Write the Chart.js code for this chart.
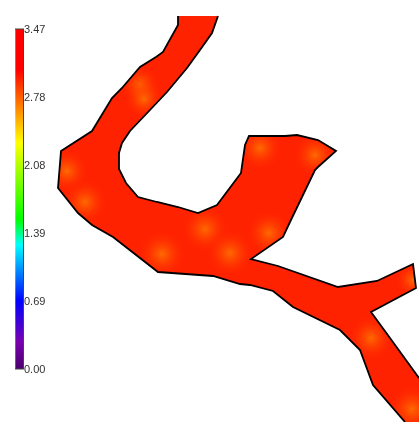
<!DOCTYPE html>
<html>
<head>
<meta charset="utf-8">
<style>
  html, body { margin: 0; padding: 0; background: #fff; }
  canvas { display: block; }
</style>
<script src="https://cdn.jsdelivr.net/npm/chart.js@4"></script>
</head>
<body>
<canvas id="heat-chart" width="419" height="422"></canvas>
<script>
// outline of the region, [x, y], down the left/lower bank
const leftBankX = [178, 178, 163, 156, 140, 122, 112, 92, 61, 58, 78, 92, 113, 158, 213, 240, 250, 273, 293, 340, 360, 373, 405];
const leftBankY = [16, 25, 52, 57, 67, 88, 98, 131, 151, 188, 213, 225, 237, 272, 276, 284, 285, 291, 307, 330, 350, 385, 422];

// and back up the right/upper bank
const rightBankX = [419, 390, 371, 416, 413, 377, 338, 278, 251, 283, 290, 315, 318, 336, 318, 297, 285, 249, 245, 241, 217, 198, 178, 157, 138, 126, 119, 119, 122, 130, 150, 167, 187, 200, 212, 218];
const rightBankY = [378, 338, 312, 288, 264, 281, 287, 266, 259, 237, 222, 170, 167, 151, 140, 135, 136, 136, 145, 173, 205, 213, 207, 202, 197, 183, 169, 153, 143, 131, 110, 92, 68, 50, 33, 16];

// the region runs off the page at the lower right corner
const cornerX = [419];
const cornerY = [422];

// warmer spots inside the region
const spotX = [140, 144, 67, 85, 162, 205, 230, 260, 315, 269, 371, 412, 413];
const spotY = [85, 99, 171, 202, 254, 229, 253, 148, 155, 233, 338, 409, 280];
const spotR = [20, 20, 22, 23, 24, 24, 24, 23, 22, 23, 23, 24, 18];

// colour bar
const tickValues = [0.00, 0.69, 1.39, 2.08, 2.78, 3.47];
const barStops = [0, 0.08, 0.2, 0.365, 0.44, 0.665, 0.88, 1];
const barColors = ['#4b006e', '#7a00b0', '#0000ff', '#00ffff', '#00ff00', '#ffff00', '#ff0000', '#ff0000'];

const baseColor = '#ff2200';
const spotColor = '#ff6a00';

const toPoints = (xs, ys) => xs.map((x, i) => ({ x: x, y: ys[i] }));
const leftBank = toPoints(leftBankX, leftBankY);
const rightBank = toPoints(rightBankX, rightBankY);
const region = leftBank.concat(toPoints(cornerX, cornerY), rightBank);

const barGradient = (context) => {
    const chart = context.chart;
    const scale = chart.scales.v;
    const y0 = scale.getPixelForValue(0);
    const y1 = scale.getPixelForValue(3.47);
    if (!isFinite(y0) || !isFinite(y1)) return barColors[0];
    const g = chart.ctx.createLinearGradient(0, y0, 0, y1);
    barStops.forEach((s, i) => g.addColorStop(s, barColors[i]));
    return g;
};

const spotGradient = (context) => {
    if (context.type !== 'data' || !context.parsed) return spotColor;
    const chart = context.chart;
    const px = chart.scales.x.getPixelForValue(context.parsed.x);
    const py = chart.scales.y.getPixelForValue(context.parsed.y);
    const r = spotR[context.dataIndex];
    if (!isFinite(px) || !isFinite(py)) return spotColor;
    const g = chart.ctx.createRadialGradient(px, py, 0, px, py, r);
    g.addColorStop(0, spotColor);
    g.addColorStop(0.45, 'rgba(255,80,0,0.5)');
    g.addColorStop(1, 'rgba(255,34,0,0)');
    return g;
};

// warm spots must not bleed past the outline
const clipSpots = {
    id: 'clipSpots',
    beforeDatasetDraw(chart, args) {
        if (args.index !== 1) return;
        const ctx = chart.ctx;
        ctx.save();
        ctx.beginPath();
        region.forEach((p, i) => {
            const px = chart.scales.x.getPixelForValue(p.x);
            const py = chart.scales.y.getPixelForValue(p.y);
            if (i === 0) ctx.moveTo(px, py); else ctx.lineTo(px, py);
        });
        ctx.closePath();
        ctx.clip();
    },
    afterDatasetDraw(chart, args) {
        if (args.index === 1) chart.ctx.restore();
    }
};

const lineBase = { type: 'scatter', showLine: true, pointRadius: 0, tension: 0 };

new Chart(document.getElementById('heat-chart'), {
    data: {
        datasets: [
            { ...lineBase, data: region, fill: 'shape', backgroundColor: baseColor, borderWidth: 0, order: 5 },
            {
                type: 'bubble',
                data: spotX.map((x, i) => ({ x: x, y: spotY[i], r: spotR[i] })),
                backgroundColor: spotGradient,
                borderWidth: 0,
                order: 4
            },
            { ...lineBase, data: leftBank, borderColor: '#000', borderWidth: 1.8, order: 3 },
            { ...lineBase, data: rightBank, borderColor: '#000', borderWidth: 1.8, order: 3 },
            {
                ...lineBase,
                yAxisID: 'v',
                data: tickValues.map(v => ({ x: 19.3, y: v })),
                borderColor: barGradient,
                borderWidth: 8,
                borderCapStyle: 'butt',
                order: 2
            },
            {
                ...lineBase,
                yAxisID: 'v',
                data: tickValues.map(v => ({ x: 23.5, y: v })),
                borderColor: '#444',
                borderWidth: 1,
                order: 1
            },
            { ...lineBase, yAxisID: 'v', data: [{ x: 15, y: 3.47 }, { x: 24, y: 3.47 }], borderColor: '#444', borderWidth: 1, order: 1 },
            { ...lineBase, yAxisID: 'v', data: [{ x: 15, y: 0 }, { x: 24, y: 0 }], borderColor: '#444', borderWidth: 1, order: 1 }
        ]
    },
    options: {
        responsive: false,
        animation: false,
        layout: { padding: 0, autoPadding: false },
        scales: {
            x: { type: 'linear', min: 0, max: 419, display: false },
            y: { type: 'linear', min: 0, max: 422, reverse: true, display: false },
            v: {
                type: 'linear',
                position: 'left',
                // 0 sits at pixel 369 and 3.47 at pixel 29
                min: -0.5409,
                max: 3.766,
                afterBuildTicks: axis => { axis.ticks = tickValues.map(v => ({ value: v })); },
                // labels sit over the plot, so the axis must not take any room
                afterFit: axis => { axis.width = 0; axis.paddingTop = 0; axis.paddingBottom = 0; },
                grid: { display: false, drawTicks: false },
                border: { display: false },
                ticks: {
                    mirror: true,
                    padding: 24,
                    labelOffset: 1,
                    color: '#333',
                    font: { family: 'Liberation Sans', size: 11 },
                    callback: v => v.toFixed(2)
                }
            }
        },
        plugins: { legend: { display: false }, tooltip: { enabled: false } }
    },
    plugins: [clipSpots]
});
</script>
</body>
</html>
